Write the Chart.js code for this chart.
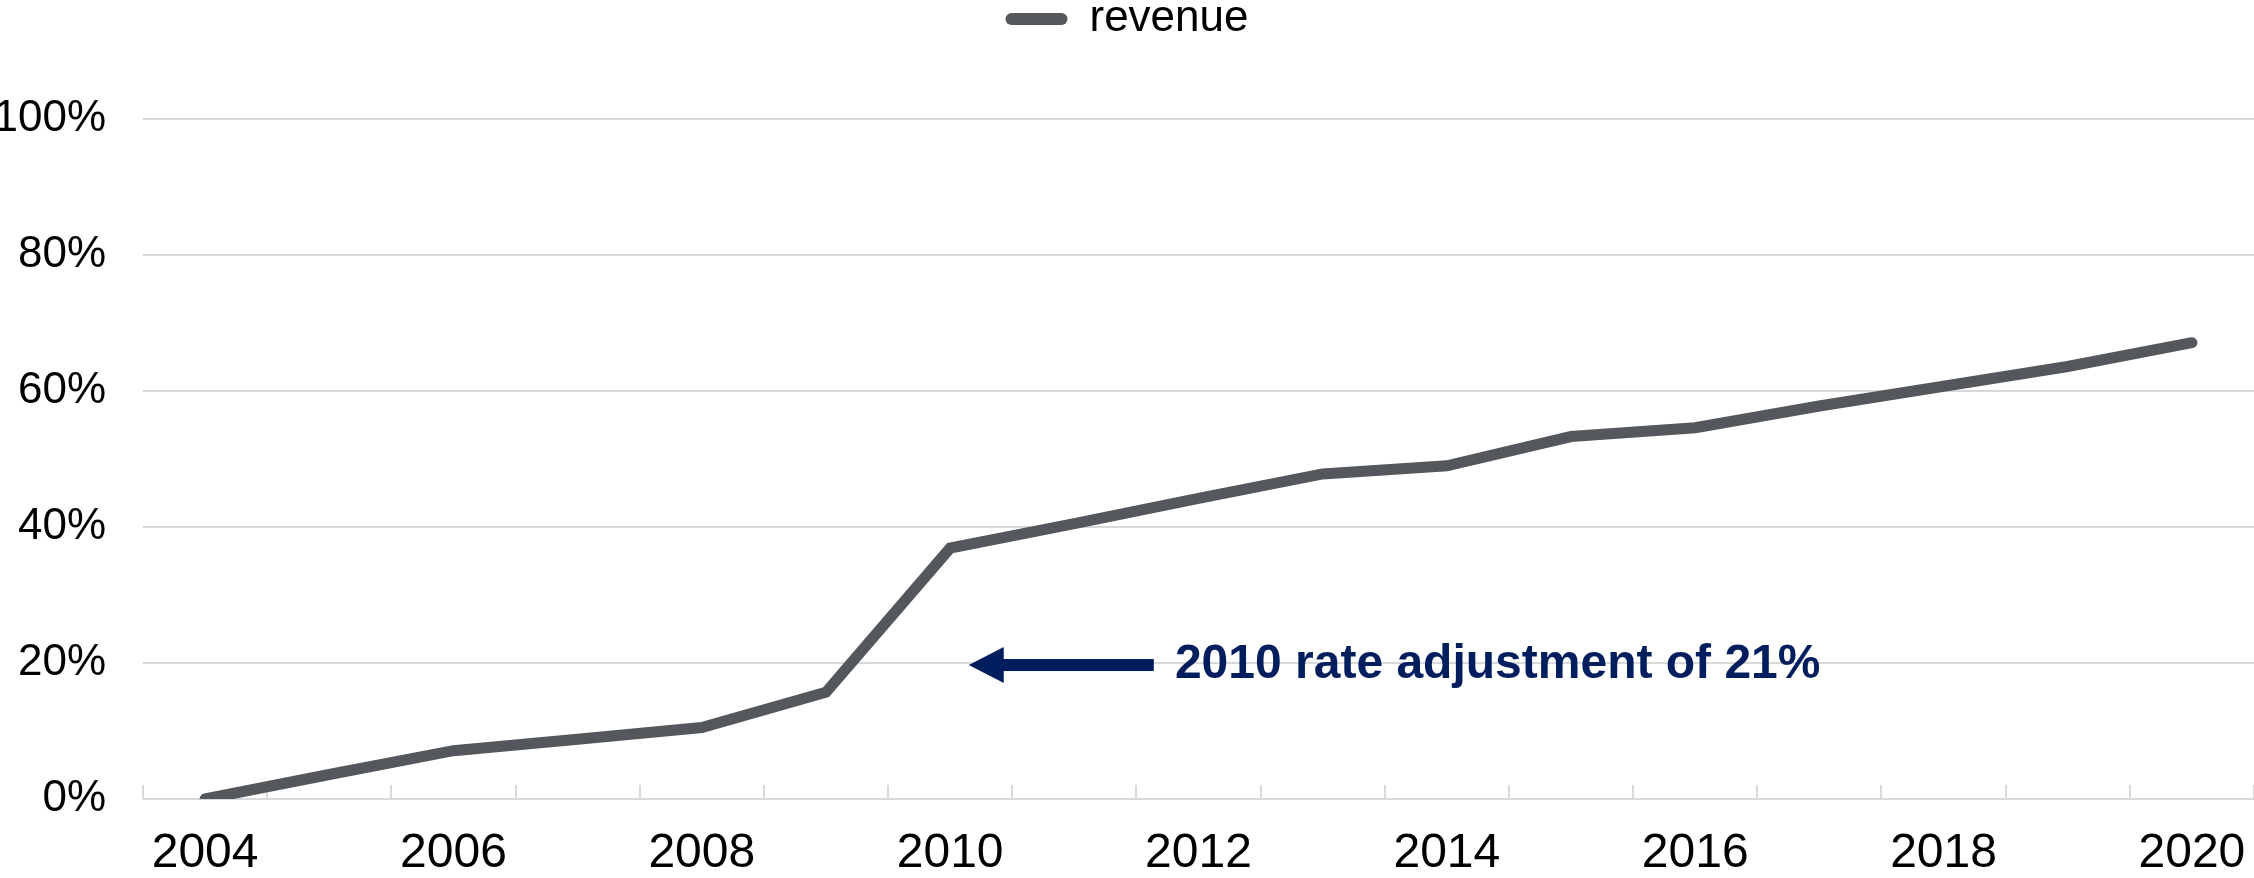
<!DOCTYPE html>
<html>
<head>
<meta charset="utf-8">
<title>revenue</title>
<script src="https://cdn.jsdelivr.net/npm/chart.js@4.4.1/dist/chart.umd.min.js"></script>
<style>
  html, body { margin: 0; padding: 0; background: #fff; }
  canvas { display: block; }
</style>
</head>
<body>
<canvas id="revenueChart" width="2254" height="878"></canvas>
<script>
// chart values
var years = ['2004', '2005', '2006', '2007', '2008', '2009', '2010', '2011', '2012',
             '2013', '2014', '2015', '2016', '2017', '2018', '2019', '2020'];
var revenue = [0, 3.6, 7.1, 8.8, 10.5, 15.7, 36.9, 40.5, 44.2,
               47.8, 49.0, 53.3, 54.6, 57.8, 60.7, 63.6, 67.1];
var yTicks = [0, 20, 40, 60, 80, 100];

// note next to the 2010 jump (x in category index units, y in %)
var noteText = '2010 rate adjustment of 21%';
var noteArrowFrom = 7.64;
var noteArrowTo = 6.15;
var noteTextAt = 7.81;
var noteY = 19.7;

var lineColor = '#54575b';
var noteColor = '#001d5e';
var gridColor = '#d9d9d9';
var fontFamily = '"Liberation Sans", Arial, Helvetica, sans-serif';

// arrow + label drawn in data coordinates
var notePlugin = {
  id: 'note',
  afterDatasetsDraw: function(chart) {
    var ctx = chart.ctx;
    var x = chart.scales.x, y = chart.scales.y;
    var yy = y.getPixelForValue(noteY);
    var tail = x.getPixelForValue(noteArrowFrom);
    var tip = x.getPixelForValue(noteArrowTo);
    var headLen = 35, headHalf = 18, shaft = 12;
    ctx.save();
    ctx.fillStyle = noteColor;
    ctx.fillRect(tip + headLen - 1, yy - shaft / 2, tail - tip - headLen + 1, shaft);
    ctx.beginPath();
    ctx.moveTo(tip, yy);
    ctx.lineTo(tip + headLen, yy - headHalf);
    ctx.lineTo(tip + headLen, yy + headHalf);
    ctx.closePath();
    ctx.fill();
    ctx.font = 'bold 48px ' + fontFamily;
    ctx.textAlign = 'left';
    ctx.textBaseline = 'middle';
    ctx.fillText(noteText, x.getPixelForValue(noteTextAt), yy);
    ctx.restore();
  }
};

var ctx = document.getElementById('revenueChart').getContext('2d');
var revenueChart = new Chart(ctx, {
  type: 'line',
  data: {
    labels: years,
    datasets: [{
      label: 'revenue',
      data: revenue,
      borderColor: lineColor,
      backgroundColor: lineColor,
      borderWidth: 11,
      borderCapStyle: 'round',
      borderJoinStyle: 'miter',
      pointRadius: 0,
      pointHoverRadius: 0,
      tension: 0,
      fill: false
    }]
  },
  options: {
    responsive: false,
    animation: false,
    devicePixelRatio: 1,
    layout: { padding: { top: -13, left: 0, right: 0, bottom: 0 } },
    plugins: {
      legend: {
        position: 'top',
        labels: {
          font: { family: fontFamily, size: 44 },
          color: '#000',
          padding: 10,
          boxWidth: 62,
          boxHeight: 12,
          useBorderRadius: true,
          borderRadius: 6,
          generateLabels: function(chart) {
            var items = Chart.defaults.plugins.legend.labels.generateLabels(chart);
            items.forEach(function(it) { it.lineWidth = 0; it.fillStyle = lineColor; });
            return items;
          }
        }
      },
      // empty title used as spacer between legend and plot
      title: {
        display: true,
        text: '',
        weight: 500,
        font: { size: 10, lineHeight: 1 },
        padding: { top: 0, bottom: 58 }
      },
      tooltip: { enabled: false }
    },
    scales: {
      x: {
        offset: true,
        grid: {
          offset: true,
          drawOnChartArea: false,
          drawTicks: true,
          tickLength: -14,
          color: gridColor,
          lineWidth: 2
        },
        border: { display: false },
        ticks: {
          autoSkip: false,
          maxRotation: 0,
          padding: 0,
          color: '#000',
          // tall line height pushes the labels down without side padding
          font: { family: fontFamily, size: 48, lineHeight: 2.875 },
          callback: function(v, i) { return i % 2 === 0 ? years[i] : ''; }
        },
        afterFit: function(scale) { scale.height = 79; }
      },
      y: {
        min: 0,
        max: 100,
        afterBuildTicks: function(scale) {
          scale.ticks = yTicks.map(function(v) { return { value: v }; });
        },
        grid: {
          drawTicks: false,
          color: gridColor,
          lineWidth: 2
        },
        border: { display: false },
        ticks: {
          padding: 37,
          color: '#000',
          font: { family: fontFamily, size: 44 },
          callback: function(v) { return v + '%'; }
        },
        afterFit: function(scale) { scale.width = 143; }
      }
    }
  },
  plugins: [notePlugin]
});
</script>
</body>
</html>
